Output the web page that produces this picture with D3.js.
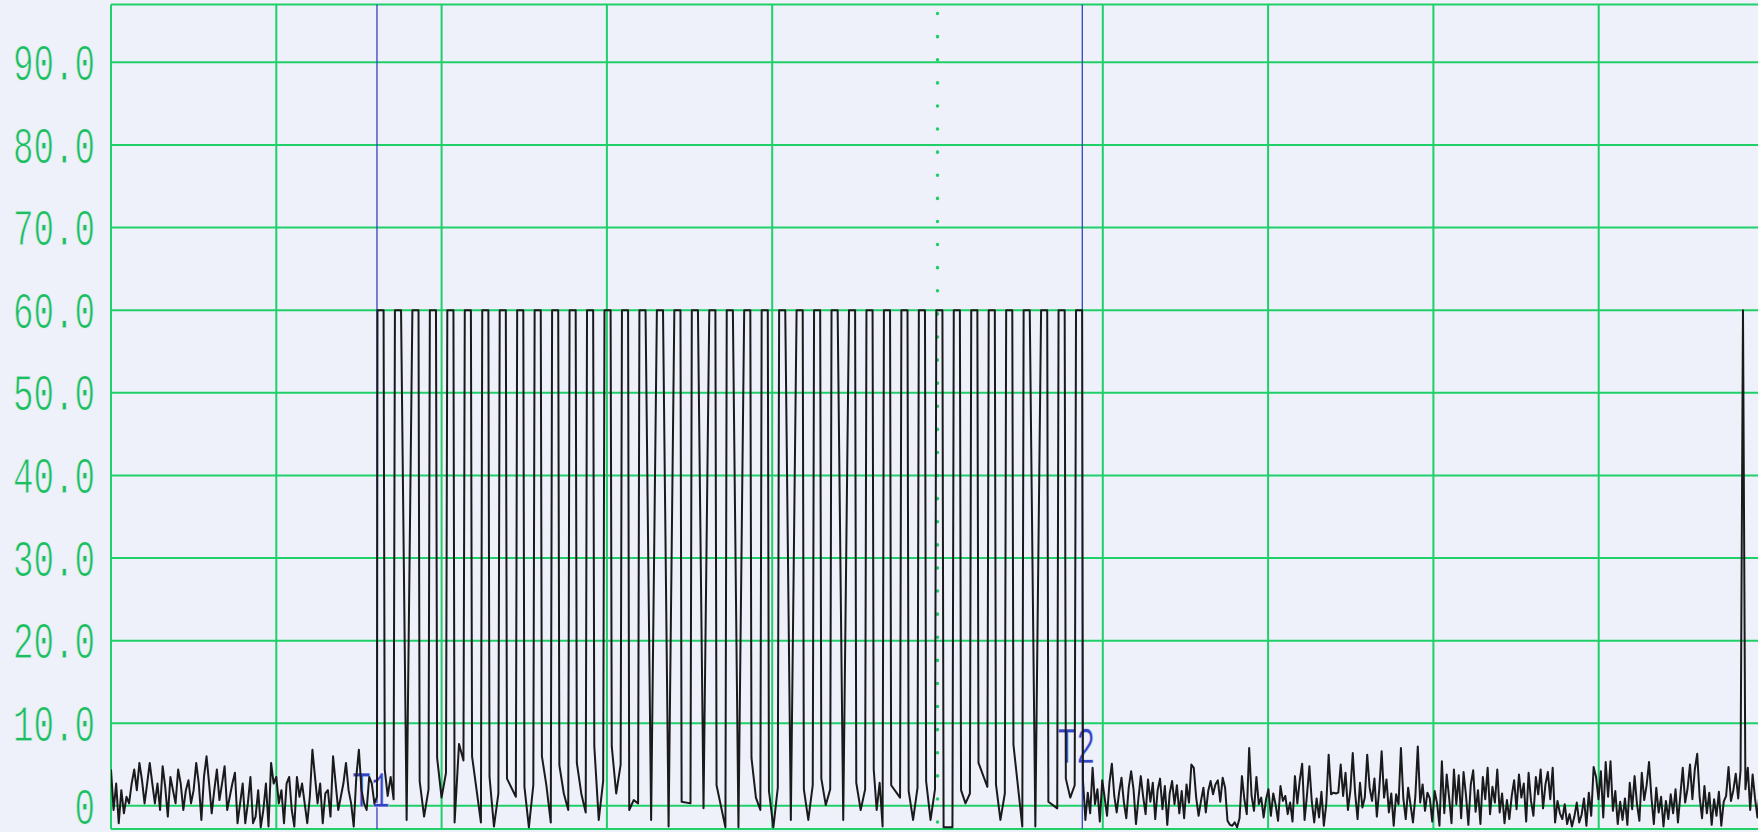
<!DOCTYPE html>
<html>
<head>
<meta charset="utf-8">
<script src="https://cdn.jsdelivr.net/npm/d3@7"></script>
<style>
  html, body { margin: 0; padding: 0; background: #eef0fa; }
  svg { display: block; }
</style>
</head>
<body>
<svg id="chart"></svg>
<script>
// values
const yTicks = [0, 10, 20, 30, 40, 50, 60, 70, 80, 90];
const yTickLabels = ["0", "10.0", "20.0", "30.0", "40.0", "50.0", "60.0", "70.0", "80.0", "90.0"];
const xGrid = [10, 20, 30, 40, 60, 70, 80, 90];
const xDotted = [50];
const cursorTimes = [16.09, 58.76];
const cursorNames = ["T1", "T2"];

const pulseHigh = 60;
const pulsePeriod = 1.0565;
const pulseWidth = 0.4;

// low part of the signal between two pulses
const pulseLows = [
  [4.4, 1.2, 3.5, 0.8], [-1.7], [3, -1.3, 2], [5.8, 1, 4], [-2, 7.5, 5.5],
  [6, -2], [3.5, -2.5, 1.5], [3.3, 1.1], [2.3, -2.6, 2.5], [6, 2.5, -2],
  [4.9, 1.5, -0.5], [5.2, 1.5, -0.8], [7.2, -1.7, 3], [7.2, 1.5, 5], [-0.5, 0.7, 0.3],
  [-1.7], [-2.5], [0.5, 0.3], [-0.3], [2.5, -2.6],
  [-2.6], [5.8, 1, -0.5], [1.8, -2.6, 2.2], [-1.7], [2, -1.7, 2.5],
  [3.3, 0.1, 2], [-1.7], [2.8, -0.5, 2], [4.4, -0.5, 2.8, -2.5], [2.5, 1],
  [1.8, -1.7, 2.2], [3, -1.7, 2], [-2.6, -2.6], [1.9, 0.3, 1.5], [5.2, 2.3],
  [2.6, -1.7, 1.5], [7.4, -2.5], [-2.5], [0.5, -0.3], [3.3, 1, 2.5]
];

const noiseBefore = [
  4.4, -0.5, 2.7, -2.1, 1.9, -0.9, 1.1, 0.3, 2.7, 4.4, 1.9, 5.2, 3.1, 0.3, 2.7,
  5.2, 2.7, 0.3, 2.7, -0.5, 4.8, 2.3, -1.3, 3.5, 1.9, 0.3, 4.4, 2.7, -0.5, 1.9,
  3.1, 0.3, 1.9, 5.2, 2.7, -1.7, 3.5, 6.0, 2.7, -0.9, 1.9, 4.4, 0.7, 2.7, 4.8,
  -0.5, 1.1, 2.7, 4.0, -2.1, 0.3, 2.7, -2.1, 0.3, 3.5, -2.1, -1.3, 1.9, -2.6, -0.5,
  2.7, -2.5, 5.2, 2.7, 3.5, 0.3, 1.9, -2.1, 2.7, 3.5, -0.5, -2.5, 3.5, 1.1, 2.7,
  0.3, -2.1, 1.1, 6.8, 3.5, 0.3, 2.7, -2.1, 1.5, 1.9, -1.3, 6.0, 2.7, -0.5, 1.1,
  2.7, 5.2, 1.9, 0.3, -2.5, 3.5, 6.8, 1.9, 0.3, -0.5, 3.5, 2.7, 0.3, 1.1
];

const noiseAfter = [
  3.1, -1.7, 1.6, -0.9, 4.6, 0.2, 2.0, -1.9, 3.1, 1.0, -1.2, 2.8, 5.1, 1.2, -0.8,
  1.6, 3.4, 0.4, -1.5, 2.2, 4.2, 2.0, -2.2, 0.8, 3.6, 1.1, -1.0, 3.2, 0.5, 2.8,
  -1.6, 1.9, 3.3, -0.4, 2.4, -2.3, 1.5, 3.0, 0.2, 2.5, -0.9, 1.8,
  -1.5, 2.6, 0.4, 5.0, 4.6, 1.0, -1.2, 0.6, 2.2, -0.8, 1.8, 3.0, 1.4, 2.6, 3.1,
  0.5, 3.4, 2.2, -1.8, -2.3, -2.4, -2.0, -2.6, -1.5, 3.6, 0.8, -1.0, 7.0, 1.2, -0.6,
  3.5, 0.2, 1.0, -1.4, 0.8, 2.0, -1.2, 1.5, 0.1, -1.8, 2.4, 0.6,
  1.2, -1.0, 0.4, -1.9, 3.6, 0.3, 3.1, 5.1, -1.7, 1.3, 4.8, 0.5, -2.0, 0.9, -1.4,
  1.7, -2.4, 0.2, 6.2, 1.4, 1.6, 1.5, 1.6, 5.0, 1.2, 4.0, -0.5, 1.8, 6.4, 1.5,
  -1.6, 2.8, -0.2, 1.0, 6.2, 2.2, 0.6, 3.3, -1.3, 2.0, 6.6, 1.0,
  3.2, -0.8, 1.5, -2.4, 1.4, 0.2, 7.0, 0.9, -1.6, 2.2, 0.1, -2.0, 1.2, 7.2, 0.4,
  2.6, -0.6, 1.6, 0.9, -1.9, 1.8, 0.3, -2.4, 5.4, -0.9, 3.8, 1.0, -2.1, 4.4, 0.2,
  3.7, -1.5, 4.1, 1.3, -2.3, 2.6, 4.3, -0.7, 1.9, -2.2, 3.5, 0.8,
  4.6, -1.0, 2.3, 0.4, 4.4, -0.8, 1.5, -2.1, 0.7, -1.6, 1.2, 3.1, -0.4, 3.8, 1.0,
  2.7, -1.9, 4.0, 0.6, -1.2, 3.5, 1.4, 4.4, -0.3, 2.6, 4.1, 0.8, 4.6, -2.0, 0.6,
  -0.9, -1.6, 0.2, -2.2, -1.0, -2.5, -1.3, 0.4, -2.0, -1.1, 0.9, -2.4,
  1.6, -1.2, 4.7, 3.5, 0.8, 4.2, -1.4, 5.3, 1.1, 5.4, -0.6, 1.8, -2.2, 0.5, -1.7,
  0.9, -2.3, 2.8, -0.4, 3.6, 0.2, -1.8, 4.0, 0.7, 2.5, 5.3, 1.0, -2.2, 2.2, -0.8,
  1.1, -2.5, 0.6, -1.6, 1.4, -0.9, 2.0, -2.0, 1.3, 4.6, 0.4, 2.1,
  5.0, 0.8, 4.4, 6.3, 1.1, -1.5, 2.4, -0.9, 1.6, -2.3, 0.8, -1.2, 1.7, -2.4, 0.5,
  1.2, 4.7, 0.6, 1.9, 3.9, 0.9, 4.3, 60, 2.0, 4.6, -0.5, 3.8, 0.9, -1.4, 2.2,
  0.4, 3.0
];

const width = 1758, height = 832;
const bg = "#eef0fa";
const green = "#1fcf68", labelGreen = "#1cbf60", blue = "#3344c4";
const plotterFont = "'Liberation Mono', 'DejaVu Sans Mono', monospace";

const svg = d3.select("#chart").attr("width", width).attr("height", height);
svg.append("rect").attr("width", width).attr("height", height).attr("fill", bg);

const x = d3.scaleLinear().domain([0, 100]).range([111, 1764]);
const y = d3.scaleLinear().domain([-2.8, 97]).range([829, 4.5]);
const [yBot, yTop] = y.domain();
const [xL, xR] = x.domain();

svg.append("defs").append("clipPath").attr("id", "plot")
  .append("rect")
  .attr("x", x(xL)).attr("y", y(yTop))
  .attr("width", x(xR) - x(xL)).attr("height", y(yBot) - y(yTop));

// grid
const grid = svg.append("g").attr("stroke", green).attr("stroke-width", 2).attr("fill", "none");
grid.selectAll(".hline")
  .data(yTicks.concat([yBot, yTop]))
  .join("line")
  .attr("x1", x(xL)).attr("x2", x(xR))
  .attr("y1", d => y(d)).attr("y2", d => y(d));
grid.selectAll(".vline")
  .data(xGrid.concat([xL]))
  .join("line")
  .attr("x1", d => x(d)).attr("x2", d => x(d))
  .attr("y1", y(yTop)).attr("y2", y(yBot));
grid.selectAll(".dline")
  .data(xDotted)
  .join("line")
  .attr("x1", d => x(d)).attr("x2", d => x(d))
  .attr("y1", y(yTop)).attr("y2", y(yBot))
  .attr("stroke-width", 3.5)
  .attr("stroke-linecap", "round")
  .attr("stroke-dasharray", "0.1 23")
  .attr("stroke-dashoffset", -9);

// y labels (thin pen: background-coloured outline trims the glyphs)
const yAxis = d3.axisLeft(y)
  .tickValues(yTicks)
  .tickFormat((d, i) => yTickLabels[i])
  .tickSize(0)
  .tickPadding(16);
const ya = svg.append("g").attr("transform", `translate(${x(xL)},0)`).call(yAxis);
ya.select(".domain").remove();
ya.selectAll("text")
  .attr("fill", labelGreen)
  .attr("stroke", bg)
  .attr("stroke-width", 0.9)
  .attr("font-family", plotterFont)
  .attr("font-size", 52)
  .attr("dy", "0.33em")
  .attr("textLength", function () { return this.textContent.length * 20.5; })
  .attr("lengthAdjust", "spacingAndGlyphs");

// cursors
svg.append("g").selectAll("line")
  .data(cursorTimes)
  .join("line")
  .attr("x1", d => x(d)).attr("x2", d => x(d))
  .attr("y1", y(yTop)).attr("y2", y(yBot))
  .attr("stroke", blue).attr("stroke-width", 1.3);

svg.append("g").selectAll("text")
  .data(cursorTimes)
  .join("text")
  .attr("x", d => x(d) - 6)
  .attr("y", (d, i) => i === 0 ? y(0) + 1 : y(0) - 43)
  .attr("text-anchor", "middle")
  .attr("fill", blue)
  .attr("stroke", bg)
  .attr("stroke-width", 0.7)
  .attr("font-family", plotterFont)
  .attr("font-size", 52)
  .attr("textLength", 38)
  .attr("lengthAdjust", "spacingAndGlyphs")
  .text((d, i) => cursorNames[i]);

// build the trace
const pts = [];
const t1 = cursorTimes[0], t2 = cursorTimes[1];
noiseBefore.forEach((v, i) => pts.push([t1 * i / (noiseBefore.length - 1), v]));
for (let k = 0; k <= pulseLows.length; k++) {
  const t0 = t1 + k * pulsePeriod;
  pts.push([t0 + 0.03, pulseHigh]);
  pts.push([t0 + pulseWidth, pulseHigh]);
  if (k < pulseLows.length) {
    const lows = pulseLows[k];
    const a = t0 + pulseWidth + 0.07, b = t0 + pulsePeriod - 0.05;
    lows.forEach((v, j) => {
      const tt = lows.length === 1 ? (a + b) / 2 : a + (b - a) * j / (lows.length - 1);
      pts.push([tt, v]);
    });
  }
}
noiseAfter.forEach((v, i) => pts.push([t2 + 0.04 + (xR - t2) * i / (noiseAfter.length - 1), v]));

const line = d3.line().x(d => x(d[0])).y(d => y(d[1]));
svg.append("path")
  .datum(pts)
  .attr("clip-path", "url(#plot)")
  .attr("fill", "none")
  .attr("stroke", "#1a1a1c")
  .attr("stroke-width", 2)
  .attr("stroke-linejoin", "round")
  .attr("d", line);
</script>
</body>
</html>
